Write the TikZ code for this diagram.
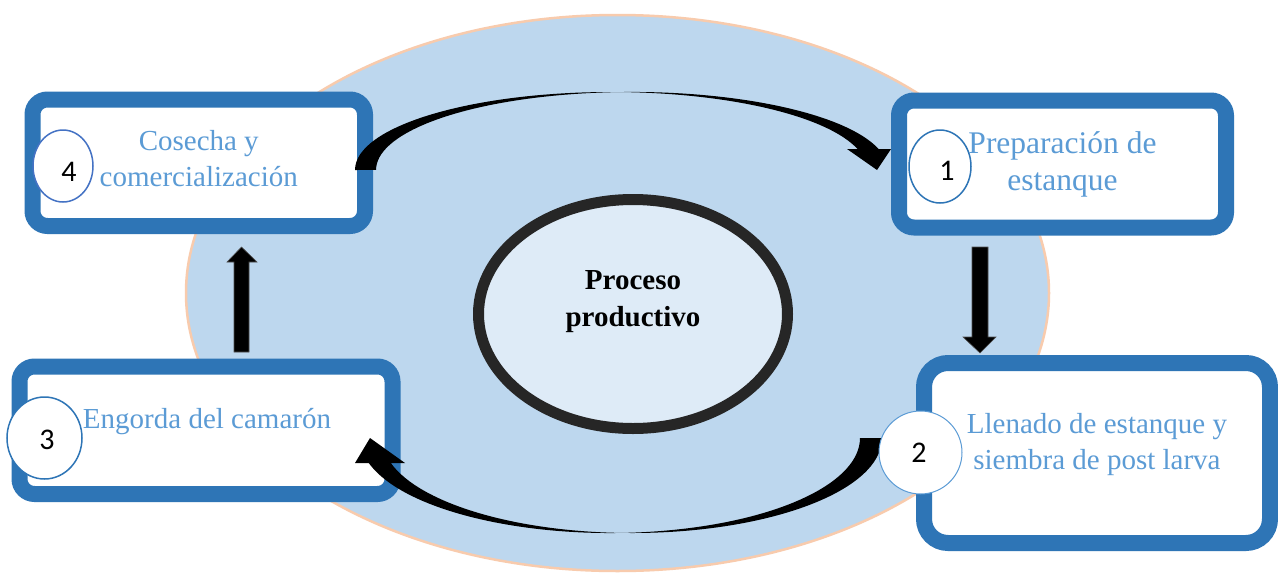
\documentclass[tikz,border=0pt]{standalone}
\usepackage{fontspec}
\setmainfont{Liberation Serif}
\newfontfamily\digitfont{Carlito}
\usetikzlibrary{shapes.geometric}

\definecolor{pondfill}{HTML}{BDD7EE}
\definecolor{pondedge}{HTML}{F8CBAD}
\definecolor{boxblue}{HTML}{2E75B6}
\definecolor{labelblue}{HTML}{5B9BD5}
\definecolor{corefill}{HTML}{DEEBF7}
\definecolor{coreedge}{HTML}{262626}
\definecolor{ringblue}{HTML}{4472C4}
\definecolor{arrowedge}{HTML}{505050}

\begin{document}
\begin{tikzpicture}[x=1pt,y=1pt,
  pond/.style={ellipse, draw=pondedge, line width=2.5pt, fill=pondfill, inner sep=0pt},
  core/.style={ellipse, draw=coreedge, line width=11pt, fill=corefill, inner sep=0pt},
  stagebox/.style={rectangle, draw=boxblue, line width=16pt, fill=white,
                   rounded corners=15pt, inner sep=0pt},
  stagetext/.style={text=labelblue, align=center, inner sep=0pt,
                    font=\fontsize{29}{36}\selectfont},
  ring/.style={ellipse, draw=#1, line width=1.5pt, fill=white, inner sep=0pt},
  digit/.style={inner sep=0pt, font=\digitfont\fontsize{30}{36}\selectfont},
  curvedarrow/.style={fill=black},
  block/.style={fill=black, draw=arrowedge, line width=0.6pt}
]
\useasboundingbox (0,0) rectangle (1278,-576);
\fill[white] (0,0) rectangle (1278,-576);

% background pond and central process
\node[pond, minimum width=863pt, minimum height=556pt] (pond) at (617.5,-293) {};
\node[core, minimum width=309pt, minimum height=229pt] (core) at (633,-314) {};
\node[inner sep=0pt, align=center, font=\bfseries\fontsize{29}{37}\selectfont]
  (coretext) at (633,-302) {Proceso\\productivo};

% the four stages
\node[stagebox, minimum width=332.5pt, minimum height=126.5pt] (b4) at (198.75,-162.75) {};
\node[stagebox, minimum width=327pt, minimum height=127pt] (b1) at (1062.5,-164) {};
\node[stagebox, minimum width=373pt, minimum height=127.5pt] (b3) at (206,-430.25) {};
\node[stagebox, rounded corners=24pt, minimum width=346pt, minimum height=180pt] (b2) at (1097,-453) {};

\node[stagetext] (t4) at (198.75,-158.6) {Cosecha y\\comercialización};
\node[stagetext, font=\fontsize{31.5}{37}\selectfont] (t1) at (1062.5,-164.3) {Preparación de\\estanque};
\node[stagetext, anchor=base] (t3) at (207,-428) {Engorda del camarón};
\node[stagetext] (t2) at (1097,-444.3) {Llenado de estanque y\\siembra de post larva};

% curved arrow 4 -> 1 (two shifted half ellipses with a head)
\fill[curvedarrow] (355,-170) arc[start angle=180, end angle=15.6, x radius=256pt, y radius=78pt]
  -- (847,-149) -- (877,-170) -- (891,-149) -- (878.6,-149)
  arc[start angle=15.6, end angle=180, x radius=256pt, y radius=78pt] -- cycle;

% curved arrow 2 -> 3
\fill[curvedarrow] (882,-438) arc[start angle=0, end angle=-164.74, x radius=250pt, y radius=95pt]
  -- (405,-463) -- (370,-438) -- (355,-463) -- (368.8,-463)
  arc[start angle=-164.74, end angle=0, x radius=250pt, y radius=95pt] -- cycle;

% straight block arrows
\filldraw[block] (972,-247) -- (988,-247) -- (988,-337) -- (996,-337) -- (980,-353)
  -- (963,-337) -- (972,-337) -- cycle;
\filldraw[block] (234,-352) -- (249,-352) -- (249,-262) -- (257,-262) -- (241.5,-247)
  -- (227,-262) -- (234,-262) -- cycle;

% step numbers
\node[ring=ringblue, minimum width=60pt, minimum height=72pt] (n4) at (63,-166) {};
\node[ring=boxblue, minimum width=62pt, minimum height=73pt] (n1) at (940,-166.5) {};
\node[ring=boxblue, minimum width=75pt, minimum height=82pt] (n3) at (44.5,-438) {};
\node[ring=labelblue, line width=1pt, minimum width=83pt, minimum height=83pt] (n2) at (920.5,-452.5) {};

\node[digit] (d4) at (69,-172) {4};
\node[digit] (d1) at (947,-171) {1};
\node[digit] (d3) at (47,-440) {3};
\node[digit] (d2) at (919,-452.5) {2};
\end{tikzpicture}
\end{document}
